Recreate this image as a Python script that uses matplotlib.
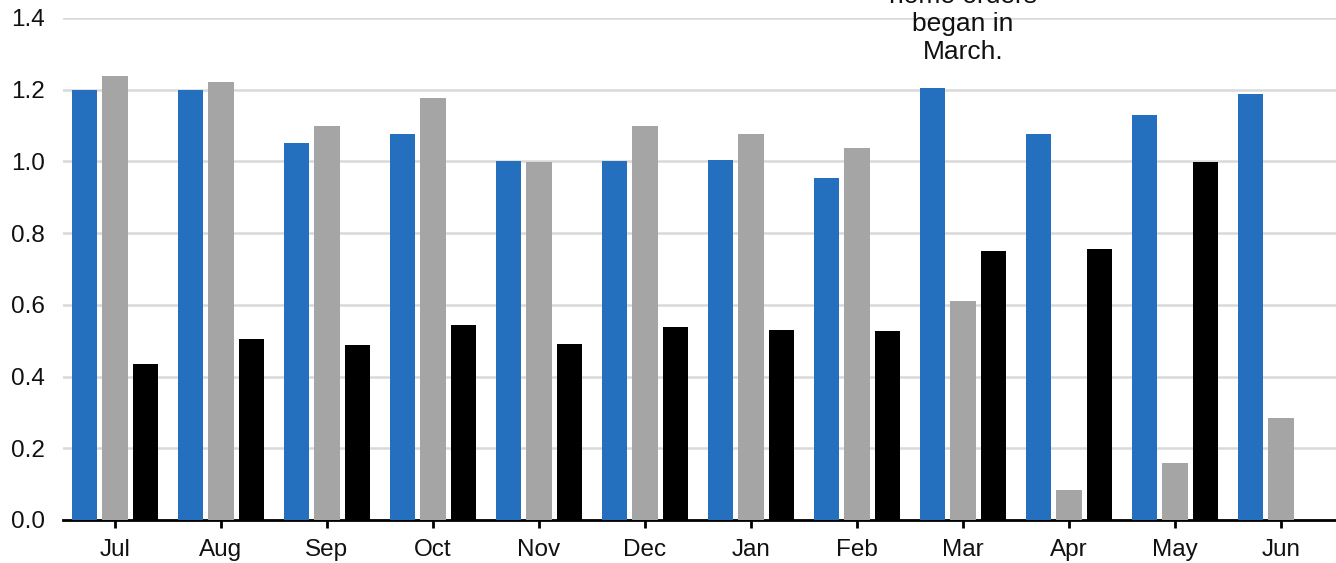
import matplotlib
matplotlib.use("Agg")
import matplotlib.pyplot as plt
import numpy as np

plt.rcParams['font.family'] = ['Liberation Sans', 'DejaVu Sans']

months = ["Jul", "Aug", "Sep", "Oct", "Nov", "Dec", "Jan", "Feb", "Mar", "Apr", "May", "Jun"]
series_blue = [1.198, 1.200, 1.051, 1.076, 1.001, 1.000, 1.004, 0.954, 1.205, 1.076, 1.130, 1.188]
series_gray = [1.238, 1.221, 1.099, 1.177, 0.998, 1.099, 1.076, 1.037, 0.611, 0.084, 0.159, 0.284]
series_black = [0.435, 0.505, 0.488, 0.544, 0.491, 0.538, 0.530, 0.527, 0.751, 0.756, 0.998, None]
y_ticks = [0.0, 0.2, 0.4, 0.6, 0.8, 1.0, 1.2, 1.4]

W, H = 1336, 563
fig = plt.figure(figsize=(W / 100, H / 100), dpi=100)
ax = fig.add_axes([63 / W, (H - 520) / H, 1 - 63 / W, (520 - 18) / H])

x = np.arange(len(months))
bw = 0.24
off = 0.288
ax.bar(x - off, series_blue, width=bw, color="#2470BE", zorder=3)
ax.bar(x, series_gray, width=bw, color="#A5A5A5", zorder=3)
bx = [xi + off for xi, v in zip(x, series_black) if v is not None]
bv = [v for v in series_black if v is not None]
ax.bar(bx, bv, width=bw, color="#000000", zorder=3)

ax.set_xlim(-0.49, 11.52)
ax.set_ylim(0, 1.4)
ax.set_yticks(y_ticks)
ax.set_yticklabels([f"{t:.1f}" for t in y_ticks])
ax.set_xticks(x)
ax.set_xticklabels(months)

ax.grid(axis="y", color="#D9D9D9", linewidth=1.8, zorder=0)
ax.set_axisbelow(True)
for s in ["left", "right", "top"]:
    ax.spines[s].set_visible(False)
ax.spines["bottom"].set_linewidth(2)
ax.spines["bottom"].set_color("black")
ax.tick_params(axis="y", length=0, pad=13, labelsize=17.5, labelcolor="#111111")
ax.tick_params(axis="x", length=6, width=2, direction="out", pad=8, labelsize=17.5,
               labelcolor="#111111")

ax.text(8, 1.383, "home orders\nbegan in\nMarch.", ha="center", va="center",
        fontsize=19, linespacing=1.2, color="#111111")

fig.savefig("out.png", dpi=100)
